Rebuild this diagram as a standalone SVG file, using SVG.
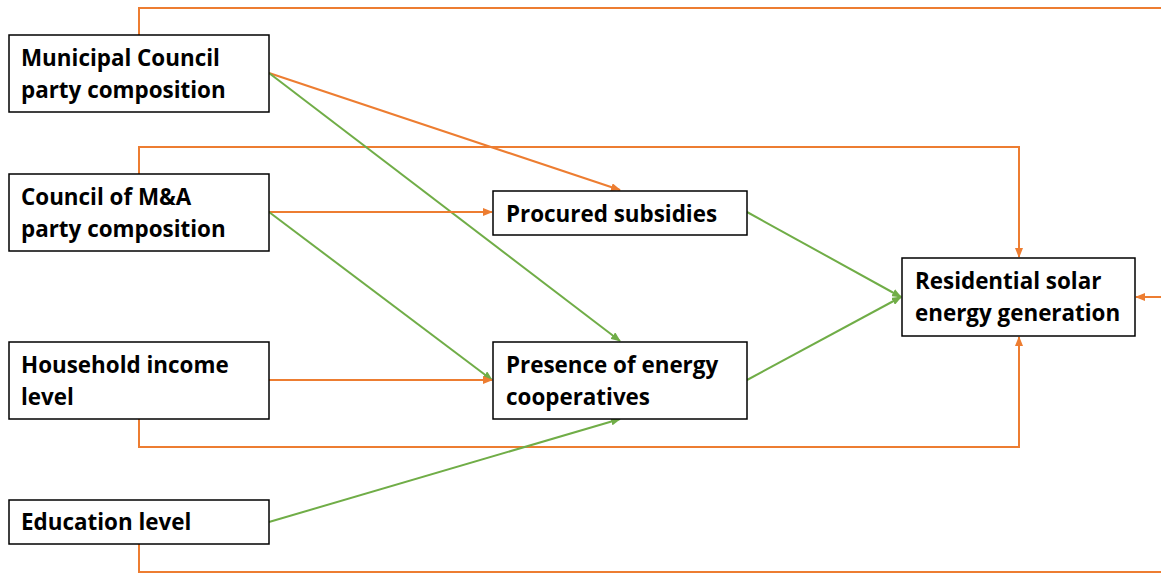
<svg xmlns="http://www.w3.org/2000/svg" width="1161" height="575" viewBox="0 0 1161 575">
<style>
.box{fill:#fff;stroke:#000;stroke-width:1.5}
.t{font-family:"Open Sans","Liberation Sans",sans-serif;font-weight:bold;font-size:22.4px;fill:#000}
.o{fill:none;stroke:#ED7D31;stroke-width:2}
.g{fill:none;stroke:#70AD47;stroke-width:2}
</style>
<defs>
<marker id="ao" markerUnits="userSpaceOnUse" markerWidth="10" markerHeight="8" refX="9" refY="4" orient="auto"><path d="M0,0 L10,4 L0,8 z" fill="#ED7D31"/></marker>
<marker id="ag" markerUnits="userSpaceOnUse" markerWidth="10" markerHeight="8" refX="9" refY="4" orient="auto"><path d="M0,0 L10,4 L0,8 z" fill="#70AD47"/></marker>
</defs>
<rect width="1161" height="575" fill="#fff"/>
<g id="connectors">
<path class="o" d="M139,35 V8 H1161"/>
<path class="o" d="M139,174 V147 H1019 V257" marker-end="url(#ao)"/>
<path class="o" d="M139,419 V447 H1019 V337" marker-end="url(#ao)"/>
<path class="o" d="M139,544 V572 H1161"/>
<path class="o" d="M1161,297 H1136" marker-end="url(#ao)"/>
<path class="o" d="M269,73 L620,190" marker-end="url(#ao)"/>
<path class="g" d="M269,73 L620,341" marker-end="url(#ag)"/>
<path class="o" d="M269,212 H492" marker-end="url(#ao)"/>
<path class="g" d="M269,212 L492,380" marker-end="url(#ag)"/>
<path class="o" d="M269,380 H492" marker-end="url(#ao)"/>
<path class="g" d="M269,522 L620,419" marker-end="url(#ag)"/>
<path class="g" d="M747,212 L901,297" marker-end="url(#ag)"/>
<path class="g" d="M747,380 L901,297" marker-end="url(#ag)"/>
</g>
<g id="n-municipal"><rect class="box" x="9" y="35" width="260" height="77"/><text class="t" x="21" y="66">Municipal Council</text><text class="t" x="21" y="98">party composition</text></g>
<g id="n-council"><rect class="box" x="9" y="174" width="260" height="77"/><text class="t" x="21" y="205">Council of M&amp;A</text><text class="t" x="21" y="237">party composition</text></g>
<g id="n-household"><rect class="box" x="9" y="342" width="260" height="77"/><text class="t" x="21" y="373">Household income</text><text class="t" x="21" y="405">level</text></g>
<g id="n-education"><rect class="box" x="9" y="500" width="260" height="44"/><text class="t" x="21" y="530">Education level</text></g>
<g id="n-procured"><rect class="box" x="493" y="191" width="254" height="44"/><text class="t" x="506" y="222">Procured subsidies</text></g>
<g id="n-presence"><rect class="box" x="493" y="342" width="254" height="77"/><text class="t" x="506" y="373">Presence of energy</text><text class="t" x="506" y="405">cooperatives</text></g>
<g id="n-residential"><rect class="box" x="902" y="258" width="233" height="78"/><text class="t" x="915" y="289">Residential solar</text><text class="t" x="915" y="321">energy generation</text></g>
</svg>
